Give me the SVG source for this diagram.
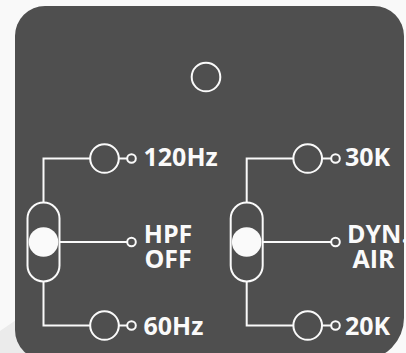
<svg xmlns="http://www.w3.org/2000/svg" width="406" height="353" viewBox="0 0 406 353">
  <style>
    .ln { fill: none; stroke: #fafafa; stroke-width: 2; }
    .ring { fill: none; stroke: #fafafa; stroke-width: 2; }
    .dot { fill: #fafafa; stroke: none; }
    .lbl { font-family: "Open Sans", "Noto Sans", "Liberation Sans", sans-serif; font-weight: bold; font-size: 25px; fill: #fafafa; }
  </style>
  <rect x="0" y="0" width="406" height="353" fill="#f9f9f9"/>
  <polygon points="0,331 60,290 60,353 0,353" fill="#ebebeb"/>
  <path d="M45 6 H374 A30 30 0 0 1 404 36 V318 A42 42 0 0 1 362 360 H45 A30 30 0 0 1 15 330 V36 A30 30 0 0 1 45 6 Z" fill="#4f4f4f"/>

  <g id="connectors">
    <path class="ln" d="M43.5 202.5 V158.5 H90.2"/>
    <path class="ln" d="M118.8 158.5 H127.2"/>
    <path class="ln" d="M59.5 242 H127.2"/>
    <path class="ln" d="M43.5 281.5 V325.5 H90.2"/>
    <path class="ln" d="M118.8 325.5 H127.2"/>
    <path class="ln" d="M246.7 202.5 V158.5 H293.4"/>
    <path class="ln" d="M322 158.5 H331.2"/>
    <path class="ln" d="M262.7 242 H331.2"/>
    <path class="ln" d="M246.7 281.5 V325.5 H293.4"/>
    <path class="ln" d="M322 325.5 H331.2"/>
  </g>

  <g id="indicator">
    <circle class="ring" cx="206" cy="77" r="14.3"/>
  </g>

  <g id="hpf-switch">
    <rect class="ring" x="27.5" y="202.5" width="32" height="79" rx="16" ry="16"/>
    <circle class="dot" cx="43.5" cy="242" r="14.8"/>
  </g>
  <g id="hpf-120">
    <circle class="ring" cx="104.5" cy="158.5" r="14.3"/>
    <circle class="ring" cx="131.5" cy="158.5" r="4.3"/>
    <text class="lbl" x="143.5" y="166.3">120Hz</text>
  </g>
  <g id="hpf-off">
    <circle class="ring" cx="131.5" cy="242" r="4.3"/>
    <text class="lbl" x="143.8" y="243.4">HPF<tspan x="144.4" y="268">OFF</tspan></text>
  </g>
  <g id="hpf-60">
    <circle class="ring" cx="104.5" cy="325.5" r="14.3"/>
    <circle class="ring" cx="131.5" cy="325.5" r="4.3"/>
    <text class="lbl" x="143.5" y="334.8">60Hz</text>
  </g>

  <g id="air-switch">
    <rect class="ring" x="230.7" y="202.5" width="32" height="79" rx="16" ry="16"/>
    <circle class="dot" cx="246.7" cy="242" r="14.8"/>
  </g>
  <g id="air-30k">
    <circle class="ring" cx="307.7" cy="158.5" r="14.3"/>
    <circle class="ring" cx="335.5" cy="158.5" r="4.3"/>
    <text class="lbl" x="345" y="166.3">30K</text>
  </g>
  <g id="air-dyn">
    <circle class="ring" cx="335.5" cy="242" r="4.3"/>
    <text class="lbl" x="347" y="243.4">DYN.<tspan x="352.5" y="268">AIR</tspan></text>
  </g>
  <g id="air-20k">
    <circle class="ring" cx="307.7" cy="325.5" r="14.3"/>
    <circle class="ring" cx="335.5" cy="325.5" r="4.3"/>
    <text class="lbl" x="345" y="334.8">20K</text>
  </g>
</svg>
